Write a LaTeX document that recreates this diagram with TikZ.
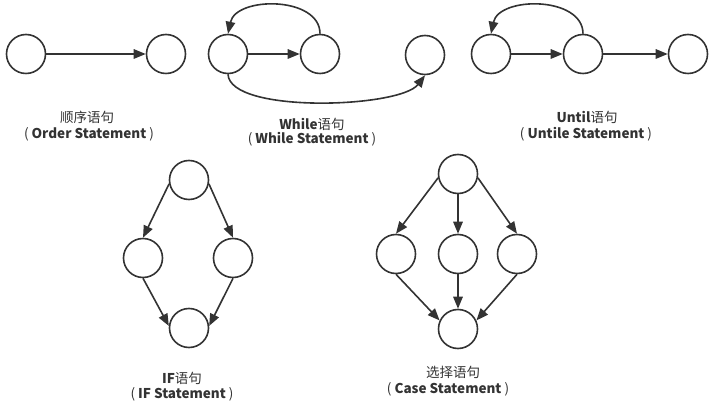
\documentclass[tikz,border=0pt]{standalone}
\usepackage{fontspec}
\setmainfont{Noto Sans CJK SC}
\usetikzlibrary{arrows.meta}
\definecolor{ink}{HTML}{333333}
\tikzset{
  st/.style={circle,draw=ink,line width=1.6pt,minimum size=39pt,inner sep=0pt},
  arr/.style={draw=ink,line width=1.6pt,-{Triangle[length=12pt,width=9.5pt]}},
  lbl/.style={text=ink,font=\fontsize{13.5}{15}\selectfont,inner sep=0pt,align=center}
}
\begin{document}
\begin{tikzpicture}[x=1pt,y=-1pt]
\useasboundingbox (0,0) rectangle (725,411);
% Order
\node[st] (o1) at (26,54) {};
\node[st] (o2) at (166,54) {};
\draw[arr] (o1.east) -- (o2.west);
\node[lbl] (ol1) at (87,117) {顺序语句};
\node[lbl] (ol2) at (89,134) {( \textbf{Order Statement} )};
% While
\node[st] (w1) at (228,54) {};
\node[st] (w2) at (320,54) {};
\node[st] (w3) at (425,55) {};
\draw[arr] (w1.east) -- (w2.west);
\draw[arr] (w2.north) .. controls (320,-4) and (236,-4) .. (w1.north);
\draw[arr] (w1.south) .. controls (230,114) and (400,108) .. (w3.south);
\node[lbl] (wl1) at (312,124) {\textbf{While}语句};
\node[lbl] (wl2) at (312,139) {( \textbf{While Statement} )};
% Until
\node[st] (u1) at (491,54) {};
\node[st] (u2) at (583,54) {};
\node[st] (u3) at (688,54) {};
\draw[arr] (u1.east) -- (u2.west);
\draw[arr] (u2.east) -- (u3.west);
\draw[arr] (u2.north) .. controls (583,-4) and (499,-4) .. (u1.north);
\node[lbl] (ul1) at (587,117) {\textbf{Until}语句};
\node[lbl] (ul2) at (586,134) {( \textbf{Untile Statement} )};
% IF
\node[st] (it) at (189,180) {};
\node[st] (il) at (143,258) {};
\node[st] (ir) at (233,258) {};
\node[st] (ib) at (189,328) {};
\draw[arr] (it.191) -- (il.north);
\draw[arr] (it.-11) -- (ir.north);
\draw[arr] (il.south) -- (ib.174);
\draw[arr] (ir.south) -- (ib.6);
\node[lbl] (il1) at (182,378) {\textbf{IF}语句};
\node[lbl] (il2) at (182,394) {( \textbf{IF Statement} )};
% Case
\node[st] (ct) at (458,174) {};
\node[st] (cl) at (396,254) {};
\node[st] (cm) at (458,254) {};
\node[st] (cr) at (517,254) {};
\node[st] (cb) at (458,329) {};
\draw[arr] (ct.191) -- (cl.north);
\draw[arr] (ct.south) -- (cm.north);
\draw[arr] (ct.-11) -- (cr.north);
\draw[arr] (cl.south) -- (cb.155);
\draw[arr] (cm.south) -- (cb.north);
\draw[arr] (cr.south) -- (cb.25);
\node[lbl] (cl1) at (453,372) {选择语句};
\node[lbl] (cl2) at (448,389) {( \textbf{Case Statement} )};
\end{tikzpicture}
\end{document}
